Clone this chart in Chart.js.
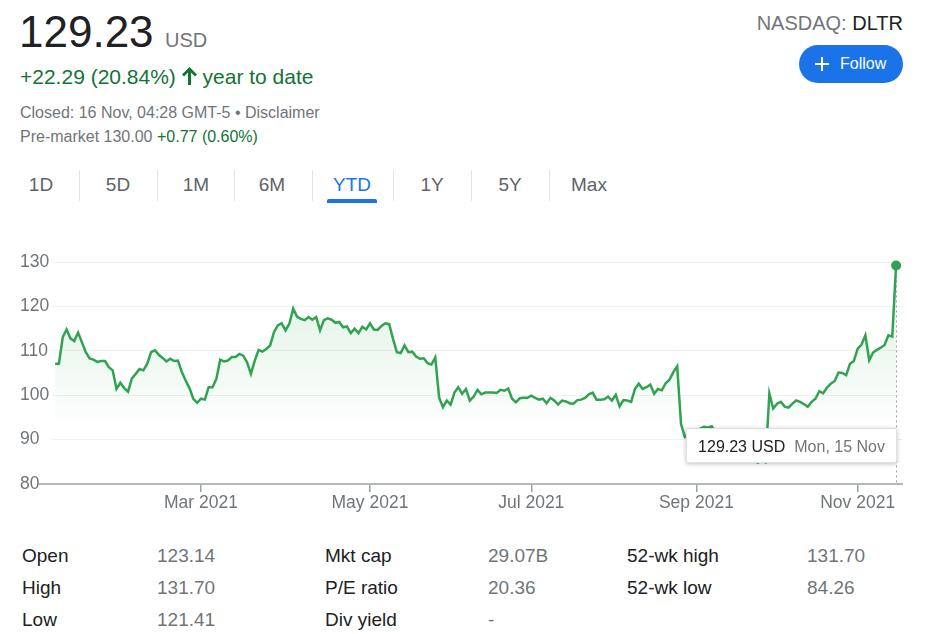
<!DOCTYPE html>
<html>
<head>
<meta charset="utf-8">
<script src="https://cdn.jsdelivr.net/npm/chart.js@4.4.1/dist/chart.umd.min.js"></script>
<style>
  html, body { margin: 0; padding: 0; background: #fff; }
  body { width: 929px; height: 634px; position: relative; overflow: hidden;
         font-family: Arial, "Liberation Sans", sans-serif; color: #202124; }
  .abs { position: absolute; white-space: nowrap; }
  .gray { color: #70757a; }
  .green { color: #137333; }
  .tab { position: absolute; top: 175px; font-size: 19px; line-height: 19px; color: #5f6368; transform: translateX(-50%); }
  .sep { position: absolute; top: 170px; width: 1px; height: 31px; background: #e3e3e3; }
  .cell { position: absolute; font-size: 19px; line-height: 19px; }
  .cell.v { color: #70757a; }
  #wrap { position: absolute; left: 0; top: 240px; width: 929px; height: 280px; }
  #tip { position: absolute; display: none; background: #fff; border: 1px solid #e0e0e0;
         box-shadow: 0 1px 4px rgba(0,0,0,0.25); border-radius: 2px; height: 35px;
         line-height: 35px; padding: 0 11px; font-size: 16px; white-space: nowrap; box-sizing: border-box; }
  #tip .date { color: #70757a; margin-left: 9px; }
</style>
</head>
<body>

<!-- header -->
<div class="abs" style="left:19px;top:10px;font-size:44px;line-height:44px;color:#202124;">129.23</div>
<div class="abs gray" style="left:165px;top:30px;font-size:20px;line-height:20px;">USD</div>
<div class="abs green" style="left:20px;top:66px;font-size:21px;line-height:21px;">+22.29 (20.84%) <svg width="15" height="18" viewBox="0 0 15 18" style="vertical-align:-1px"><path d="M7.5 0 L15 7.5 L13 9.4 L9 5.4 L9 18 L6 18 L6 5.4 L2 9.4 L0 7.5 Z" fill="#137333"/></svg> year to date</div>
<div class="abs gray" style="left:20px;top:105px;font-size:16px;line-height:16px;">Closed: 16 Nov, 04:28 GMT-5 • Disclaimer</div>
<div class="abs gray" style="left:20px;top:129px;font-size:16px;line-height:16px;">Pre-market 130.00 <span class="green">+0.77 (0.60%)</span></div>

<div class="abs" style="right:26px;top:13px;font-size:20px;line-height:20px;"><span class="gray">NASDAQ:</span> DLTR</div>
<div class="abs" style="left:799px;top:45px;width:104px;height:38px;border-radius:19px;background:#1a73e8;color:#fff;font-size:16px;line-height:38px;">
  <svg width="14" height="14" viewBox="0 0 14 14" style="position:absolute;left:16px;top:12px"><path d="M6 0h2v6h6v2H8v6H6V8H0V6h6z" fill="#fff"/></svg>
  <span style="position:absolute;left:41px;">Follow</span>
</div>

<!-- range tabs -->
<div class="tab" style="left:41px;">1D</div>
<div class="sep" style="left:79px;"></div>
<div class="tab" style="left:118px;">5D</div>
<div class="sep" style="left:157px;"></div>
<div class="tab" style="left:196px;">1M</div>
<div class="sep" style="left:234px;"></div>
<div class="tab" style="left:272px;">6M</div>
<div class="sep" style="left:312px;"></div>
<div class="tab" style="left:352px;color:#1a73e8;">YTD</div>
<div class="abs" style="left:327px;top:199px;width:50px;height:4px;background:#1a73e8;border-radius:2px 2px 0 0;"></div>
<div class="sep" style="left:393px;"></div>
<div class="tab" style="left:432px;">1Y</div>
<div class="sep" style="left:471px;"></div>
<div class="tab" style="left:510px;">5Y</div>
<div class="sep" style="left:549px;"></div>
<div class="tab" style="left:589px;">Max</div>

<!-- chart -->
<div id="wrap">
  <canvas id="chart"></canvas>
  <div id="tip"><span class="price"></span><span class="date"></span></div>
</div>

<!-- key stats -->
<div class="cell" style="left:22px;top:546px;">Open</div>
<div class="cell v" style="left:157px;top:546px;">123.14</div>
<div class="cell" style="left:325px;top:546px;">Mkt cap</div>
<div class="cell v" style="left:488px;top:546px;">29.07B</div>
<div class="cell" style="left:627px;top:546px;">52-wk high</div>
<div class="cell v" style="left:807px;top:546px;">131.70</div>

<div class="cell" style="left:22px;top:578px;">High</div>
<div class="cell v" style="left:157px;top:578px;">131.70</div>
<div class="cell" style="left:325px;top:578px;">P/E ratio</div>
<div class="cell v" style="left:488px;top:578px;">20.36</div>
<div class="cell" style="left:627px;top:578px;">52-wk low</div>
<div class="cell v" style="left:807px;top:578px;">84.26</div>

<div class="cell" style="left:22px;top:610px;">Low</div>
<div class="cell v" style="left:157px;top:610px;">121.41</div>
<div class="cell" style="left:325px;top:610px;">Div yield</div>
<div class="cell v" style="left:488px;top:610px;">-</div>

<script>
// daily closes, 4 Jan 2021 .. 15 Nov 2021 (one per trading day)
const closes = [
  107.1, 107.1, 113.1, 114.8, 112.8, 112.2, 114.1, 111.9, 109.7, 108.3,
  108.0, 107.5, 107.7, 107.7, 106.3, 105.6, 101.4, 102.8, 101.6, 100.8,
  103.8, 104.8, 105.9, 105.6, 107.1, 109.7, 110.1, 109.1, 108.4, 107.6,
  108.2, 107.7, 107.8, 105.2, 103.3, 101.6, 99.2, 98.3,
  99.2, 99.0, 101.8, 101.8, 103.7, 108.0, 107.6, 107.8, 108.6, 108.6,
  109.3, 108.9, 107.4, 104.8, 107.8, 110.2, 109.8, 110.4, 111.2, 114.2,
  115.7, 116.2, 114.6, 116.1, 119.5, 117.7, 117.2, 116.9, 117.6, 117.0,
  117.6, 114.6, 116.9, 117.3, 117.0, 116.3, 116.5, 115.3, 115.5,
  114.0, 115.0, 114.0, 115.4, 114.8, 116.2, 114.8, 114.7, 115.6, 116.2,
  116.0, 112.7, 109.7, 109.5, 111.2, 109.7, 109.8, 108.7, 108.2, 108.3,
  107.2, 106.9, 108.5, 99.5, 97.3, 98.8, 97.9, 100.6, 101.8, 100.3,
  101.4, 98.8, 99.7, 101.2, 100.2, 100.6, 100.6, 100.6, 100.5,
  101.2, 101.0, 101.5, 99.2, 98.4, 99.3, 99.4, 99.4, 99.9, 99.4,
  99.0, 99.2, 98.2, 99.4, 98.8, 97.9, 98.8, 98.6, 98.2, 98.1,
  98.9, 99.0, 99.4, 100.2, 100.6, 99.0, 99.0, 99.1, 99.7, 98.8,
  100.1, 97.5, 98.9, 98.8, 98.5,
  101.4, 102.6, 101.4, 101.8, 102.4, 100.3, 101.4, 101.1, 102.7, 103.5,
  105.2, 106.5, 93.5,
  90.6, 91.0, 90.5, 91.8, 92.5, 92.9, 92.7, 93.0, 91.5, 90.6,
  89.8, 89.0, 88.5, 87.9, 87.2, 86.8, 86.1, 85.9, 85.3, 84.8,
  85.2, 84.9,
  100.4, 97.0, 98.1, 98.5, 97.4, 97.2, 98.1, 98.8, 98.5, 98.0,
  97.4, 98.5, 99.2, 100.9, 100.4, 101.7, 102.6, 103.2, 105.1, 105.0,
  104.5, 107.1, 107.7, 110.5, 111.4, 113.5, 107.9, 109.6, 110.2, 110.7,
  111.3, 113.5, 113.2, 129.23
];

// trading-day index of the first session of each labelled month
const monthTicks = [38, 82, 124, 167, 209];
const monthLabels = ['Mar 2021', 'May 2021', 'Jul 2021', 'Sep 2021', 'Nov 2021'];
const priceTicks = [80, 90, 100, 110, 120, 130];
const lastLabel = 'Mon, 15 Nov';
const currency = 'USD';

const GREEN = '#31a350';
const last = closes.length - 1;

function externalTip(context) {
    const { chart, tooltip } = context;
    const tip = document.getElementById('tip');
    if (tooltip.opacity === 0 || !tooltip.dataPoints || !tooltip.dataPoints.length) {
        tip.style.display = 'none';
        return;
    }
    const p = tooltip.dataPoints[0];
    tip.querySelector('.price').textContent = p.parsed.y.toFixed(2) + ' ' + currency;
    tip.querySelector('.date').textContent = lastLabel;
    tip.style.display = 'block';
    tip.style.left = (tooltip.caretX + 1 - tip.offsetWidth) + 'px';
    tip.style.top = (chart.chartArea.bottom - 56) + 'px';
}

// x axis line running out to the left, plus dotted guide under the last point
const decorations = {
    id: 'decorations',
    beforeDatasetsDraw(chart) {
        const { ctx, chartArea } = chart;
        ctx.save();
        ctx.strokeStyle = '#9aa0a6';
        ctx.lineWidth = 1.5;
        ctx.beginPath();
        ctx.moveTo(38, chartArea.bottom);
        ctx.lineTo(chartArea.right, chartArea.bottom);
        ctx.stroke();

        const pt = chart.getDatasetMeta(0).data[last];
        if (pt) {
            ctx.strokeStyle = '#9aa0a6';
            ctx.lineWidth = 1;
            ctx.setLineDash([2, 3]);
            ctx.beginPath();
            ctx.moveTo(Math.round(pt.x) + 0.5, pt.y);
            ctx.lineTo(Math.round(pt.x) + 0.5, chartArea.bottom);
            ctx.stroke();
        }
        ctx.restore();
    }
};

const chart = new Chart(document.getElementById('chart'), {
    type: 'line',
    data: {
        datasets: [{
            data: closes.map((v, i) => ({ x: i, y: v })),
            borderColor: GREEN,
            borderWidth: 2.5,
            tension: 0,
            clip: false,
            fill: 'start',
            backgroundColor: (c) => {
                const area = c.chart.chartArea;
                if (!area) return 'rgba(0,0,0,0)';
                const g = c.chart.ctx.createLinearGradient(0, area.top, 0, area.top + 170);
                g.addColorStop(0, 'rgba(52,168,83,0.17)');
                g.addColorStop(1, 'rgba(52,168,83,0)');
                return g;
            },
            pointRadius: (c) => c.dataIndex === last ? 5 : 0,
            pointHoverRadius: (c) => c.dataIndex === last ? 5 : 0,
            pointBackgroundColor: GREEN,
            pointHoverBackgroundColor: GREEN,
            pointBorderWidth: 0,
            pointHoverBorderWidth: 0
        }]
    },
    options: {
        responsive: true,
        maintainAspectRatio: false,
        animation: false,
        events: [],
        layout: { padding: { left: 20, right: 26, top: 22, bottom: 0 } },
        plugins: {
            legend: { display: false },
            tooltip: { enabled: false, external: externalTip, mode: 'nearest', intersect: false }
        },
        scales: {
            x: {
                type: 'linear',
                min: -0.8,
                max: 220.8,
                afterBuildTicks: (s) => { s.ticks = monthTicks.map(v => ({ value: v })); },
                afterFit: (s) => { s.height = 36; },
                ticks: {
                    autoSkip: false,
                    maxRotation: 0,
                    padding: 1,
                    color: '#70757a',
                    font: { family: 'Arial, "Liberation Sans", sans-serif', size: 17.5 },
                    callback: (v) => monthLabels[monthTicks.indexOf(v)]
                },
                grid: { drawOnChartArea: false, drawTicks: true, tickLength: 8, color: '#9aa0a6', lineWidth: 1.5 },
                border: { display: false }
            },
            y: {
                min: 80,
                max: 130,
                afterBuildTicks: (s) => { s.ticks = priceTicks.map(v => ({ value: v })); },
                afterFit: (s) => { s.width = 32; },
                ticks: {
                    crossAlign: 'far',
                    padding: 0,
                    color: '#70757a',
                    font: { family: 'Arial, "Liberation Sans", sans-serif', size: 17.5 }
                },
                grid: { color: '#f1f1f1', drawTicks: false },
                border: { display: false }
            }
        }
    },
    plugins: [decorations]
});

chart.setActiveElements([{ datasetIndex: 0, index: last }]);
chart.tooltip.setActiveElements([{ datasetIndex: 0, index: last }], { x: 0, y: 0 });
chart.update();
</script>
</body>
</html>
